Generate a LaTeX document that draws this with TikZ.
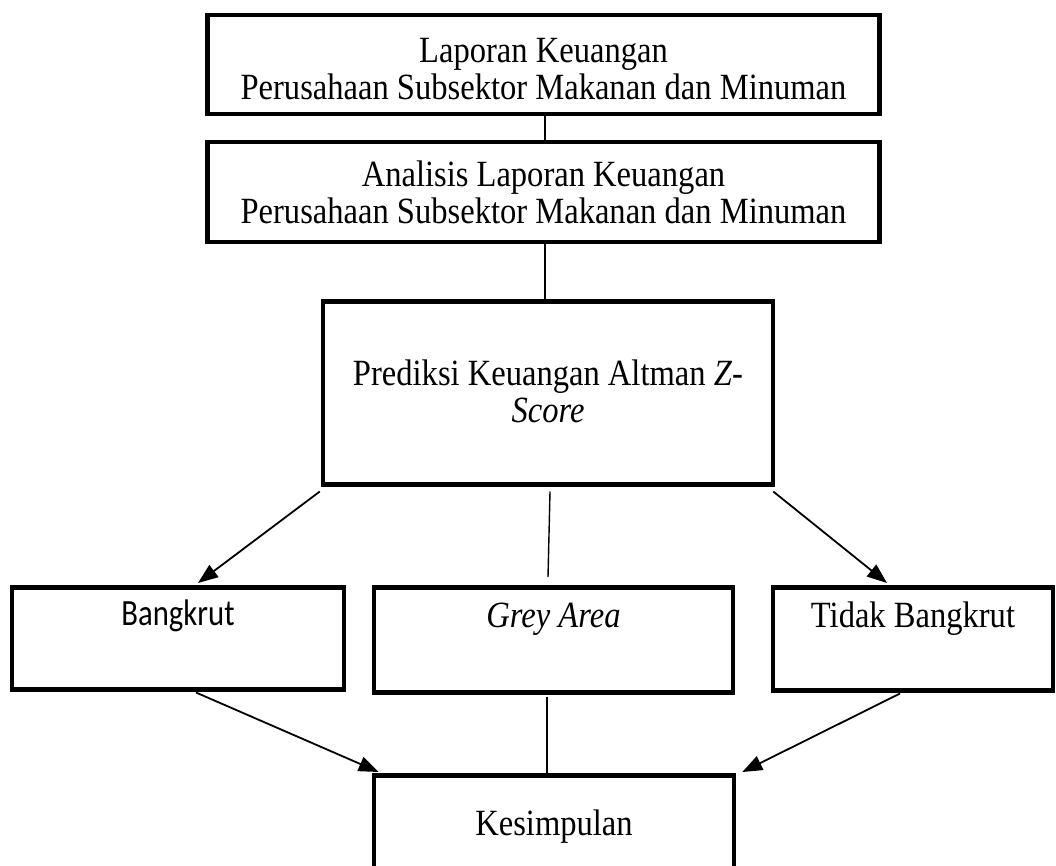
\documentclass[tikz,border=0pt]{standalone}
\usepackage{fontspec}
\setmainfont[FakeStretch=0.88]{Liberation Serif}
\newfontfamily\calibrifont[FakeStretch=0.83]{Carlito}
\usetikzlibrary{arrows.meta,calc}
\begin{document}
\begin{tikzpicture}[x=1pt,y=-1pt,
  box/.style={draw,line width=4.5pt,inner sep=0pt,align=center,font=\fontsize{37}{37}\selectfont},
  lowbox/.style={box,anchor=north},
  joinline/.style={line width=2.5pt},
  thinline/.style={line width=1.4pt},
  arrowline/.style={line width=1.8pt,-{Triangle[length=20pt,width=15pt]}},
]
\clip (0,0) rectangle (1056,866);
\fill[white] (0,0) rectangle (1056,866);

\node[box,minimum width=672pt,text height=84pt,text depth=15pt,anchor=north] (lap) at (543.5,13)
  {Laporan Keuangan\\Perusahaan Subsektor Makanan dan Minuman};
\node[box,minimum width=672pt,minimum height=100pt] (ana) at (543.5,192)
  {Analisis Laporan Keuangan\\Perusahaan Subsektor Makanan dan Minuman};
\node[box,minimum width=450pt,text height=121pt,text depth=62pt,anchor=north] (pred) at (548,299)
  {Prediksi Keuangan Altman \textit{Z}-\\\textit{Score}};

\node[lowbox,minimum width=332pt,text height=38pt,text depth=64pt,font=\calibrifont\fontsize{37}{40}\selectfont] (bang) at (178,585) {Bangkrut};
\node[lowbox,minimum width=359pt,text height=40pt,text depth=65pt] (grey) at (553.5,585) {\textit{Grey Area}};
\node[lowbox,minimum width=280pt,text height=40pt,text depth=63pt] (tidak) at (913,585) {Tidak Bangkrut};
\node[lowbox,minimum width=360pt,text height=60pt,text depth=50pt] (kes) at (554,773) {Kesimpulan};

\draw[joinline] ([xshift=1.5pt]lap.south) -- ([xshift=1.5pt]ana.north);
\draw[joinline] ([xshift=1.5pt]ana.south) -- ([xshift=-3pt]pred.north);

\draw[arrowline] ([xshift=-1pt,yshift=-5pt]pred.south west) -- ([xshift=20pt,yshift=2pt]bang.north);
\draw[thinline] ([xshift=2pt,yshift=-5pt]pred.south) -- ([xshift=-5.5pt,yshift=8pt]grey.north);
\draw[arrowline] ([xshift=-2pt,yshift=-5pt]pred.south east) -- ([xshift=-26pt,yshift=2pt]tidak.north);

\draw[arrowline] ([xshift=18pt,yshift=-1pt]bang.south) -- ([xshift=7pt,yshift=1pt]kes.north west);
\draw[thinline] ([xshift=-6.5pt,yshift=-2pt]grey.south) -- ([xshift=-7pt]kes.north);
\draw[arrowline] ([xshift=-13pt,yshift=-1pt]tidak.south) -- ([xshift=6pt,yshift=1pt]kes.north east);
\end{tikzpicture}
\end{document}
